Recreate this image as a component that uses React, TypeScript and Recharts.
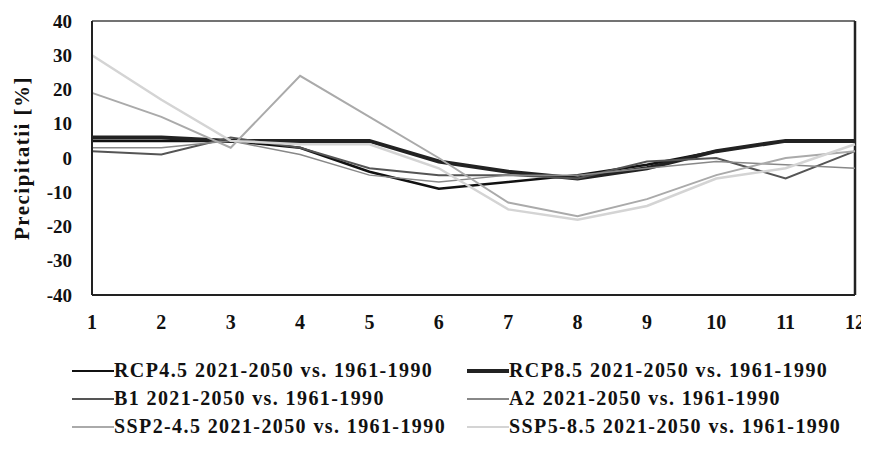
import { LineChart, Line, XAxis, YAxis, ReferenceLine } from 'recharts';

const months = [1, 2, 3, 4, 5, 6, 7, 8, 9, 10, 11, 12];
const rcp45 = [5, 5, 5, 3, -4, -9, -7, -5, -2, 2, 5, 5];
const rcp85 = [6, 6, 5, 5, 5, -1, -4, -6, -3, 2, 5, 5];
const b1 = [2, 1, 6, 3, -3, -5, -5, -6, -1, 0, -6, 2];
const a2 = [3, 3, 5, 1, -5, -7, -5, -5, -3, -1, -2, -3];
const ssp245 = [19, 12, 3, 24, 12, 0, -13, -17, -12, -5, 0, 2];
const ssp585 = [30, 17, 5, 4, 4, -3, -15, -18, -14, -6, -3, 4];
const yTicks = [-40, -30, -20, -10, 0, 10, 20, 30, 40];

const series = [
  { key: 'rcp45', name: 'RCP4.5 2021-2050 vs. 1961-1990', color: '#111', width: 2.5 },
  { key: 'rcp85', name: 'RCP8.5 2021-2050 vs. 1961-1990', color: '#222', width: 4 },
  { key: 'b1', name: 'B1 2021-2050 vs. 1961-1990', color: '#555', width: 2 },
  { key: 'a2', name: 'A2 2021-2050 vs. 1961-1990', color: '#888', width: 1.5 },
  { key: 'ssp245', name: 'SSP2-4.5 2021-2050 vs. 1961-1990', color: '#aaa', width: 2 },
  { key: 'ssp585', name: 'SSP5-8.5 2021-2050 vs. 1961-1990', color: '#d4d4d4', width: 2.5 },
];

const data = months.map((m, i) => ({
  m,
  rcp45: rcp45[i],
  rcp85: rcp85[i],
  b1: b1[i],
  a2: a2[i],
  ssp245: ssp245[i],
  ssp585: ssp585[i],
}));

const font = '"Liberation Serif", "Times New Roman", serif';

export default function App() {
  return (
    <div style={{ position: 'relative', margin: -8, width: 869, height: 459, background: '#fff', fontFamily: font }}>
      <LineChart width={869} height={459} data={data} margin={{ top: 21, right: 14, left: 0, bottom: 134 }}>
        <XAxis
          dataKey="m"
          type="number"
          domain={[1, 12]}
          ticks={months}
          height={30}
          stroke="#222"
          strokeWidth={2}
          tickSize={0}
          tickMargin={20}
          tick={{ fill: '#111', fontSize: 20, fontWeight: 'bold', fontFamily: font }}
        />
        <YAxis
          domain={[-40, 40]}
          ticks={yTicks}
          width={92}
          stroke="#222"
          strokeWidth={2}
          tickSize={0}
          tickMargin={20}
          tick={{ fill: '#111', fontSize: 19, fontWeight: 'bold', fontFamily: font }}
          label={{
            value: 'Precipitatii [%]',
            angle: -90,
            position: 'insideLeft',
            offset: 22,
            style: { textAnchor: 'middle', fill: '#111', fontSize: 21, fontWeight: 'bold', fontFamily: font, letterSpacing: 1.5 },
          }}
        />
        <ReferenceLine y={40} stroke="#444" strokeWidth={1.5} />
        <ReferenceLine x={12} stroke="#222" strokeWidth={2.5} />
        {series.map((s) => (
          <Line
            key={s.key}
            type="linear"
            dataKey={s.key}
            name={s.name}
            stroke={s.color}
            strokeWidth={s.width}
            dot={false}
            isAnimationActive={false}
          />
        ))}
      </LineChart>
      {series.map((s, i) => {
        const col = i % 2;
        const row = Math.floor(i / 2);
        return (
          <div
            key={s.key}
            style={{
              position: 'absolute',
              left: col === 0 ? 72 : 467,
              top: 359 + row * 28,
              display: 'flex',
              alignItems: 'center',
              fontSize: 20,
              fontWeight: 'bold',
              letterSpacing: 1.4,
              color: '#111',
              whiteSpace: 'nowrap',
            }}
          >
            <span style={{ display: 'inline-block', width: 42, height: 0, borderTop: `${Math.max(2, s.width)}px solid ${s.color}` }} />
            <span>{s.name}</span>
          </div>
        );
      })}
    </div>
  );
}
